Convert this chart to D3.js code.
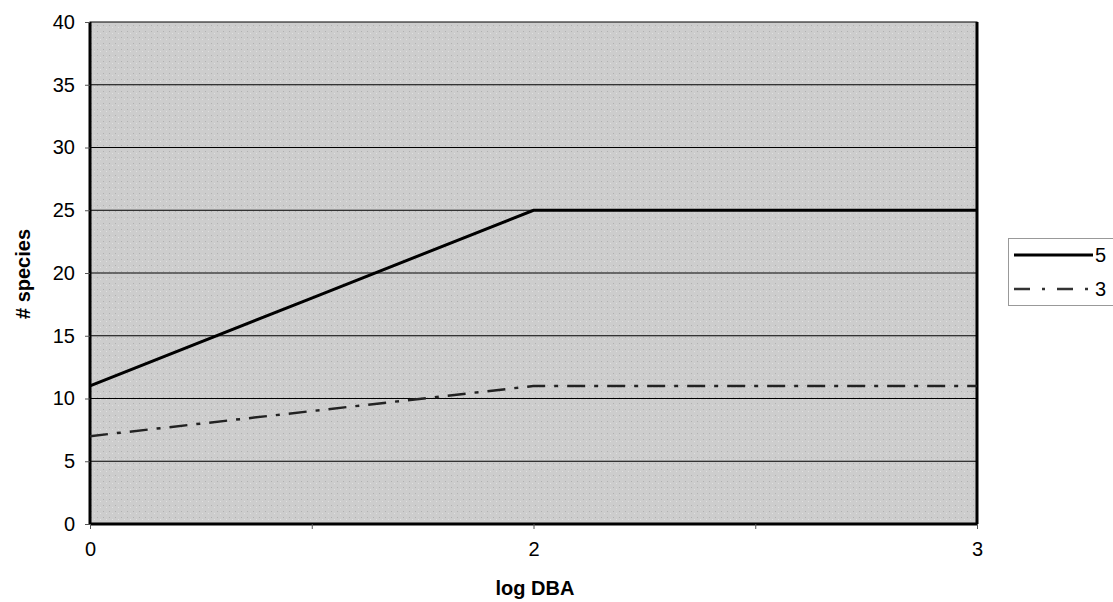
<!DOCTYPE html>
<html><head><meta charset="utf-8">
<script src="https://cdn.jsdelivr.net/npm/d3@7"></script>
<style>body{margin:0;background:#fff}text{font-family:Arial,"Liberation Sans",sans-serif}</style>
</head><body>
<svg id="c" width="1113" height="602"></svg>
<script>
const categories = ["0","1","2","2.5","3"];
const tickLabels = ["0","","2","","3"];
const series5 = [11, 18, 25, 25, 25];
const series3 = [7, 9, 11, 11, 11];
const yTicks = [0,5,10,15,20,25,30,35,40];
const seriesNames = ["5","3"];

const svg = d3.select("#c");
const L=90, R=977, T=22, B=524;
const x = d3.scalePoint().domain(categories).range([L,R]);
const y = d3.scaleLinear().domain([0,40]).range([B,T]);

const defs = svg.append("defs");
const pat = defs.append("pattern").attr("id","stip").attr("width",6).attr("height",6).attr("patternUnits","userSpaceOnUse");
pat.append("rect").attr("width",6).attr("height",6).attr("fill","#cdcdcd");
pat.append("rect").attr("x",1).attr("y",1).attr("width",1).attr("height",1).attr("fill","#b0b0b0");
pat.append("rect").attr("x",4).attr("y",3).attr("width",1).attr("height",1).attr("fill","#e0e0e0");

svg.append("rect").attr("x",L).attr("y",T).attr("width",R-L).attr("height",B-T).attr("fill","url(#stip)");

// gridlines
svg.append("g").selectAll("line").data(yTicks.filter(d=>d>0&&d<40)).join("line")
  .attr("x1",L).attr("x2",R).attr("y1",d=>y(d)).attr("y2",d=>y(d))
  .attr("stroke","#000").attr("stroke-width",1);

// border
svg.append("rect").attr("x",L).attr("y",T).attr("width",R-L).attr("height",B-T)
  .attr("fill","none").attr("stroke","#000").attr("stroke-width",1);
svg.append("line").attr("x1",L).attr("x2",L).attr("y1",T).attr("y2",B).attr("stroke","#000").attr("stroke-width",3);
svg.append("line").attr("x1",R).attr("x2",R).attr("y1",T).attr("y2",B).attr("stroke","#000").attr("stroke-width",3);
svg.append("line").attr("x1",L).attr("x2",R).attr("y1",B).attr("y2",B).attr("stroke","#000").attr("stroke-width",3);

// y axis
const ya = svg.append("g").attr("transform",`translate(${L},0)`)
  .call(d3.axisLeft(y).tickValues(yTicks).tickSize(5).tickPadding(10));
ya.select(".domain").remove();
ya.selectAll("line").attr("stroke","#555");
ya.selectAll("text").attr("font-size",20).attr("fill","#000").attr("font-family","Arial, Liberation Sans, sans-serif");

// x axis
const xa = svg.append("g").attr("transform",`translate(0,${B})`)
  .call(d3.axisBottom(x).tickFormat((d,i)=>tickLabels[i]).tickSize(5).tickPadding(13));
xa.select(".domain").remove();
xa.selectAll("line").attr("stroke","#555");
xa.selectAll("text").attr("font-size",20).attr("fill","#000").attr("font-family","Arial, Liberation Sans, sans-serif");

const line = d3.line().x((d,i)=>x(categories[i])).y(d=>y(d));
svg.append("path").datum(series5).attr("d",line).attr("fill","none").attr("stroke","#000").attr("stroke-width",3);
svg.append("path").datum(series3).attr("d",line).attr("fill","none").attr("stroke","#222").attr("stroke-width",2.5)
  .attr("stroke-dasharray","18,9,4,9");

// titles
svg.append("text").attr("x",535).attr("y",595).attr("text-anchor","middle").attr("font-size",20).attr("font-weight","bold").text("log DBA");
svg.append("text").attr("transform","translate(30,274) rotate(-90)").attr("text-anchor","middle").attr("font-size",20).attr("font-weight","bold").text("# species");

// legend
const lg = svg.append("g");
lg.append("rect").attr("x",1008.5).attr("y",238.5).attr("width",110).attr("height",67).attr("fill","#fff").attr("stroke","#999");
const styles=[{w:3,da:null,c:"#000"},{w:2.5,da:"16,12,3,12",c:"#333"}];
seriesNames.forEach((n,i)=>{
  const yy = 255 + i*34;
  lg.append("line").attr("x1",1014).attr("x2",1093).attr("y1",yy).attr("y2",yy)
    .attr("stroke",styles[i].c).attr("stroke-width",styles[i].w).attr("stroke-dasharray",styles[i].da);
  lg.append("text").attr("x",1095).attr("y",yy+7).attr("font-size",20).text(n);
});
</script>
</body></html>
